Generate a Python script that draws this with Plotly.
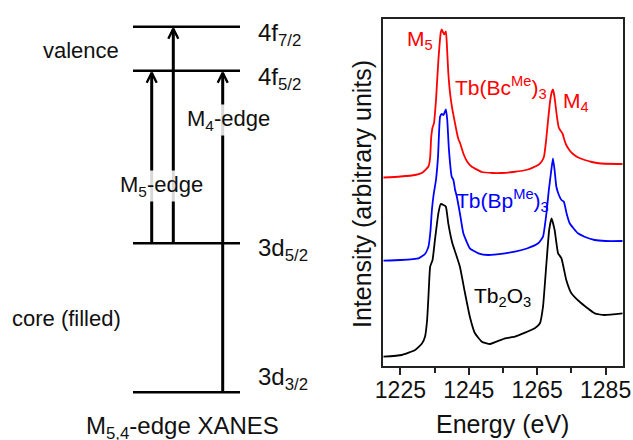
import plotly.graph_objects as go

FONT = "Liberation Sans, Arial, sans-serif"

# ---------------- spectra data (energy in eV, intensity in arbitrary units, offset) ----
red_E = [1220.0, 1225, 1229.3, 1231.5, 1233.2, 1233.7, 1234.0, 1234.4, 1234.8, 1235.4,
         1236.1, 1236.8, 1237.1, 1237.5, 1237.8, 1238.3, 1238.6, 1239.0, 1239.6, 1240.2,
         1241.5, 1242.0, 1242.4, 1243.4, 1244.5, 1245.8, 1248.8, 1252, 1254.6, 1258,
         1262.3, 1265.3, 1266.3, 1267.0, 1267.6, 1268.2, 1268.8, 1269.3, 1269.6, 1270.0,
         1270.3, 1270.8, 1271.3, 1271.8, 1272.4, 1273.0, 1273.5, 1274.5, 1275.5, 1277,
         1278.9, 1281, 1283.7, 1290]
red_I = [188, 189, 190.5, 193, 199, 208, 228, 238, 242, 265,
         305, 333, 336, 333, 331, 334, 320, 293, 270, 256,
         233, 226, 223, 212, 204, 199, 193.5, 192.5, 192.5, 193.5,
         196, 200.5, 204, 209, 225, 246, 265, 274, 276, 270,
         262, 248, 238, 235, 232, 225, 220.5, 215, 211.5, 208,
         205.5, 203.5, 202, 201.5]

blue_E = [1220.0, 1225, 1230.3, 1232.2, 1233.2, 1233.8, 1234.2, 1234.7, 1235.4, 1236.0,
          1236.6, 1237.1, 1237.6, 1238.3, 1238.7, 1239.2, 1240.0, 1240.5, 1241.0, 1241.5,
          1242.4, 1243.4, 1245.3, 1247.8, 1250.7, 1255.6, 1258.5, 1262, 1265.3, 1266.7,
          1267.7, 1268.4, 1269.0, 1269.6, 1270.1, 1270.6, 1271.4, 1272.1, 1272.8, 1273.6,
          1274.5, 1276.9, 1279, 1281.8, 1285, 1290]
blue_I = [104.8, 105.5, 107.2, 111.5, 118.8, 135, 155, 170.5, 185.5, 208.8,
          248.8, 251.5, 250.5, 256.2, 245.5, 215.5, 188.8, 185.5, 175.5, 168.8,
          152.2, 132.2, 117.2, 112.2, 110.5, 112.2, 113.8, 117, 122.2, 128.8,
          152.2, 175.5, 192, 207.2, 195, 178.8, 170, 165.5, 163.8, 152,
          142.2, 132.2, 128.5, 125.5, 124.5, 124.5]

black_E = [1220.0, 1225.4, 1229.3, 1231.3, 1232.2, 1232.8, 1233.2, 1233.7, 1234.4, 1235.1,
           1236.1, 1236.8, 1237.6, 1238.3, 1239.0, 1240.2, 1241.0, 1242.4, 1243.9, 1245.3,
           1246.8, 1248.8, 1251.2, 1255.6, 1258.5, 1264.3, 1265.8, 1266.7, 1267.7, 1268.5,
           1269.2, 1270.1, 1271.1, 1272.1, 1273.5, 1275.0, 1277.9, 1281.8, 1284.7, 1290]
black_I = [8.8, 10.5, 15.5, 22, 28.8, 45, 68.8, 98.8, 105.5, 125.5,
           152.2, 161.5, 160.5, 158.8, 142.2, 122.2, 113.8, 98.8, 72.2, 48.8,
           32.2, 23.8, 21.5, 27.2, 28.8, 37.2, 42.2, 58.8, 102.2, 135.5,
           147.2, 135.5, 112.2, 107.2, 85.5, 72.2, 62.2, 52.2, 50.5, 52.2]

series_names = ["Tb(Bc<sup>Me</sup>)<sub>3</sub>", "Tb(Bp<sup>Me</sup>)<sub>3</sub>",
                "Tb<sub>2</sub>O<sub>3</sub>"]
series_colors = ["#ff0000", "#0000ff", "#000000"]

x_ticks = [1225, 1245, 1265, 1285]
x_range = [1220, 1290]
y_range = [0, 346.7]

# ---------------- energy-level diagram data (schematic energies) ----------------
level_names = ["4f<sub>7/2</sub>", "4f<sub>5/2</sub>", "3d<sub>5/2</sub>", "3d<sub>3/2</sub>"]
level_energy = [413.3, 369.3, 196.7, 47.7]
# transitions: (from level index, to level index, horizontal slot)
trans_from = [2, 2, 3]
trans_to = [1, 0, 1]
trans_slot = [151.7, 173.3, 222.7]

fig = go.Figure()

# spectra
for E, I, col, nm in zip([red_E, blue_E, black_E], [red_I, blue_I, black_I],
                         series_colors, series_names):
    fig.add_trace(go.Scatter(x=E, y=I, mode="lines", name=nm,
                             line=dict(color=col, width=1.8, shape="spline", smoothing=0.4),
                             showlegend=False, xaxis="x", yaxis="y"))

# diagram: level lines
LX0, LX1 = 133, 240
lx, ly = [], []
for e in level_energy:
    lx += [LX0, LX1, None]
    ly += [e, e, None]
fig.add_trace(go.Scatter(x=lx, y=ly, mode="lines", line=dict(color="black", width=2.4),
                         showlegend=False, xaxis="x2", yaxis="y2", hoverinfo="skip"))

# diagram: arrows
ax_, ay_ = [], []
hx, hy = [], []
for f, t, s in zip(trans_from, trans_to, trans_slot):
    tip = level_energy[t] - 2
    ax_ += [s, s, None]
    ay_ += [level_energy[f], tip, None]
    hx += [s - 5, s, s + 5, None]
    hy += [tip - 10, tip, tip - 10, None]
fig.add_trace(go.Scatter(x=ax_, y=ay_, mode="lines", line=dict(color="black", width=3),
                         showlegend=False, xaxis="x2", yaxis="y2", hoverinfo="skip"))
fig.add_trace(go.Scatter(x=hx, y=hy, mode="lines", line=dict(color="black", width=2.4),
                         showlegend=False, xaxis="x2", yaxis="y2", hoverinfo="skip"))

ann = []


def txt(x, y, text, size, color="#111", ref=("x2", "y2"), **kw):
    d = dict(x=x, y=y, xref=ref[0], yref=ref[1], text=text, showarrow=False,
             xanchor=kw.pop("xanchor", "center"), yanchor=kw.pop("yanchor", "middle"),
             font=dict(family=FONT, size=size, color=color))
    d.update(kw)
    ann.append(d)


# level labels
level_label_dy = [-8, -8, -6, 14]
for nm, e, dy in zip(level_names, level_energy, level_label_dy):
    txt(256, e + dy, nm, 24, xanchor="left")
# edge labels with translucent background
txt(161, 440 - 186, "M<sub>5</sub>-edge", 22, bgcolor="rgba(255,255,255,0.85)", borderpad=1)
txt(228, 440 - 120, "M<sub>4</sub>-edge", 22, bgcolor="rgba(255,255,255,0.85)", borderpad=1)
txt(81, 440 - 50, "valence", 22)
txt(66, 440 - 318, "core (filled)", 22)
txt(182, 440 - 427, "M<sub>5,4</sub>-edge XANES", 24)

# spectra labels
txt(1230.6, 326, "M<sub>5</sub>", 21, "#ff0000", ref=("x", "y"))
txt(1276.4, 264, "M<sub>4</sub>", 21, "#ff0000", ref=("x", "y"))
label_xy = [(1254.3, 278), (1254.8, 165), (1254.9, 69)]
for (lxp, lyp), nm, col in zip(label_xy, series_names, series_colors):
    txt(lxp, lyp, nm, 21, col, ref=("x", "y"))

# axis titles
txt(503 / 633, (440 - 424) / 440, "Energy (eV)", 25, ref=("paper", "paper"))
txt(362 / 633, (440 - 194) / 440, "Intensity (arbitrary units)", 25,
    ref=("paper", "paper"), textangle=-90)

fig.update_layout(
    width=633, height=440, autosize=False,
    margin=dict(l=0, r=0, t=0, b=0, autoexpand=False),
    paper_bgcolor="white", plot_bgcolor="white",
    showlegend=False,
    xaxis=dict(domain=[383.3 / 633, 622.7 / 633], range=x_range,
               tickvals=x_ticks, ticks="outside", ticklen=7, tickwidth=1.5,
               tickcolor="#222", ticklabelstandoff=-4,
               minor=dict(ticks="outside", dtick=10, tick0=1225, ticklen=5,
                          tickwidth=1.5, tickcolor="#222"),
               showline=True, linecolor="#222", linewidth=2, mirror=True,
               showgrid=False, zeroline=False,
               tickfont=dict(family=FONT, size=23, color="#111")),
    yaxis=dict(domain=[(440 - 365.5) / 440, (440 - 18.8) / 440], range=y_range,
               showticklabels=False, ticks="",
               showline=True, linecolor="#222", linewidth=2, mirror=True,
               showgrid=False, zeroline=False),
    xaxis2=dict(domain=[0, 0.6], range=[0, 379.8], visible=False, anchor="y2"),
    yaxis2=dict(domain=[0, 1], range=[0, 440], visible=False, anchor="x2"),
    annotations=ann,
)

fig.write_html("out.html",
               config={"displayModeBar": False, "responsive": False},
               post_script="document.body.style.margin='0';document.body.style.overflow='hidden';")
